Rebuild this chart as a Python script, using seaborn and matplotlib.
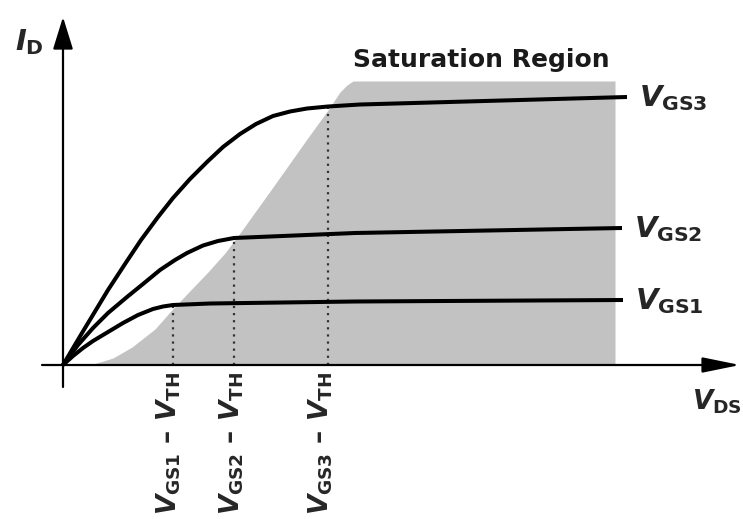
import matplotlib
matplotlib.use("Agg")
import matplotlib.pyplot as plt
import seaborn as sns
import pandas as pd

# ---- data (units = arbitrary drawing units) ----
vds_gs1 = [0, 10, 20, 30, 45, 60, 75, 90, 100, 110, 147, 292, 560]
id_gs1 = [0, 9, 17, 24, 33, 42, 50, 56, 58.5, 60, 61.5, 63.5, 65]

vds_gs2 = [0, 15, 30, 45, 64, 80, 97, 112, 124, 140, 155, 171, 292, 559]
id_gs2 = [0, 20, 37, 52, 68, 81, 95, 105, 112, 119.5, 124, 127, 132, 137]

vds_gs3 = [0, 19, 45, 62, 78, 95, 110, 127, 144, 160, 177, 193, 210, 227, 244, 265, 297, 564]
id_gs3 = [0, 32, 75, 101, 125, 148, 167, 186, 203, 218, 231, 241, 249, 253.5, 256.5, 258.5, 260.5, 268]

# VGS - VTH (edge of saturation) and the current there
vov = [110, 171, 265]
id_sat = [60, 127, 258.5]

# saturation-region boundary
sat_x = [22, 32, 50, 69, 92, 107, 122, 145, 162, 177, 210, 244, 265, 277, 284, 290, 552]
sat_y = [0, 1.5, 7, 18, 36, 53, 69, 93, 112, 132, 178, 226, 255, 273, 280, 284, 284]

curve_names = ["GS1", "GS2", "GS3"]
curve_labels = [r"$\mathit{V}_{\mathbf{GS1}}$", r"$\mathit{V}_{\mathbf{GS2}}$", r"$\mathit{V}_{\mathbf{GS3}}$"]
vth_labels = [r"$\mathit{V}_{\mathbf{GS1}}$ – $\mathit{V}_{\mathbf{TH}}$",
              r"$\mathit{V}_{\mathbf{GS2}}$ – $\mathit{V}_{\mathbf{TH}}$",
              r"$\mathit{V}_{\mathbf{GS3}}$ – $\mathit{V}_{\mathbf{TH}}$"]
region_label = "Saturation Region"
x_label = r"$\mathit{V}_{\mathbf{DS}}$"
y_label = r"$\mathit{I}_{\mathbf{D}}$"

# ---- style ----
sns.set_theme(style="white")
plt.rcParams["font.family"] = ["DejaVu Sans"]
plt.rcParams["mathtext.fontset"] = "custom"
plt.rcParams["mathtext.rm"] = "DejaVu Sans:bold"
plt.rcParams["mathtext.bf"] = "DejaVu Sans:bold"
plt.rcParams["mathtext.it"] = "DejaVu Sans:italic:bold"
plt.rcParams["mathtext.sf"] = "DejaVu Sans:bold"

fig = plt.figure(figsize=(7.43, 5.19), dpi=100)
ax = fig.add_axes([0, 0, 1, 1])
ax.set_xlim(-63, 680)
ax.set_ylim(-154, 365)
ax.axis("off")

# saturation region
ax.fill_between(sat_x, 0, sat_y, color="#c2c2c2", linewidth=0, zorder=1)

# dotted VGS-VTH lines
for xv, yv in zip(vov, id_sat):
    ax.plot([xv, xv], [0, yv], linestyle=(0, (1, 2.2)), color="#333333", lw=1.6, zorder=2)

# axes with arrows
ax.annotate("", xy=(677, 0), xytext=(-21, 0),
            arrowprops=dict(arrowstyle="-|>,head_length=2.3,head_width=0.47",
                            lw=1.6, color="black", shrinkA=0, shrinkB=0, mutation_scale=10),
            zorder=3)
ax.annotate("", xy=(0, 348), xytext=(0, -22),
            arrowprops=dict(arrowstyle="-|>,head_length=2.0,head_width=0.62",
                            lw=1.6, color="black", shrinkA=0, shrinkB=0, mutation_scale=10),
            zorder=3)

# curves
df = pd.concat([
    pd.DataFrame({"VDS": vds_gs1, "ID": id_gs1, "curve": "GS1"}),
    pd.DataFrame({"VDS": vds_gs2, "ID": id_gs2, "curve": "GS2"}),
    pd.DataFrame({"VDS": vds_gs3, "ID": id_gs3, "curve": "GS3"}),
], ignore_index=True)
sns.lineplot(data=df, x="VDS", y="ID", hue="curve", units="curve", estimator=None, sort=False,
             palette={n: "black" for n in curve_names}, linewidth=2.9, legend=False, ax=ax, zorder=4)
for line in ax.lines[-3:]:
    line.set_solid_capstyle("butt")
    line.set_solid_joinstyle("round")

# labels
fs = 21
curve_ends = [(vds_gs1[-1], id_gs1[-1]), (vds_gs2[-1], id_gs2[-1]), (vds_gs3[-1], id_gs3[-1])]
for (xe, ye), lab in zip(curve_ends, curve_labels):
    ax.text(xe + 12, ye - 1, lab, fontsize=fs, ha="left", va="center", zorder=5)

label_shift = [-4, -2, -7]
for xv, lab, sh in zip(vov, vth_labels, label_shift):
    ax.text(xv + sh, -7, lab, fontsize=19, fontweight="bold", rotation=90,
            ha="center", va="top", zorder=5)

ax.text(290, 298, region_label, fontsize=18, fontweight="bold", ha="left", va="baseline",
        color="#1a1a1a", zorder=5)
ax.text(629, -37, x_label, fontsize=19, ha="left", va="center", zorder=5)
ax.text(-48, 323, y_label, fontsize=fs, ha="left", va="center", zorder=5)

fig.savefig("out.png", dpi=100)
